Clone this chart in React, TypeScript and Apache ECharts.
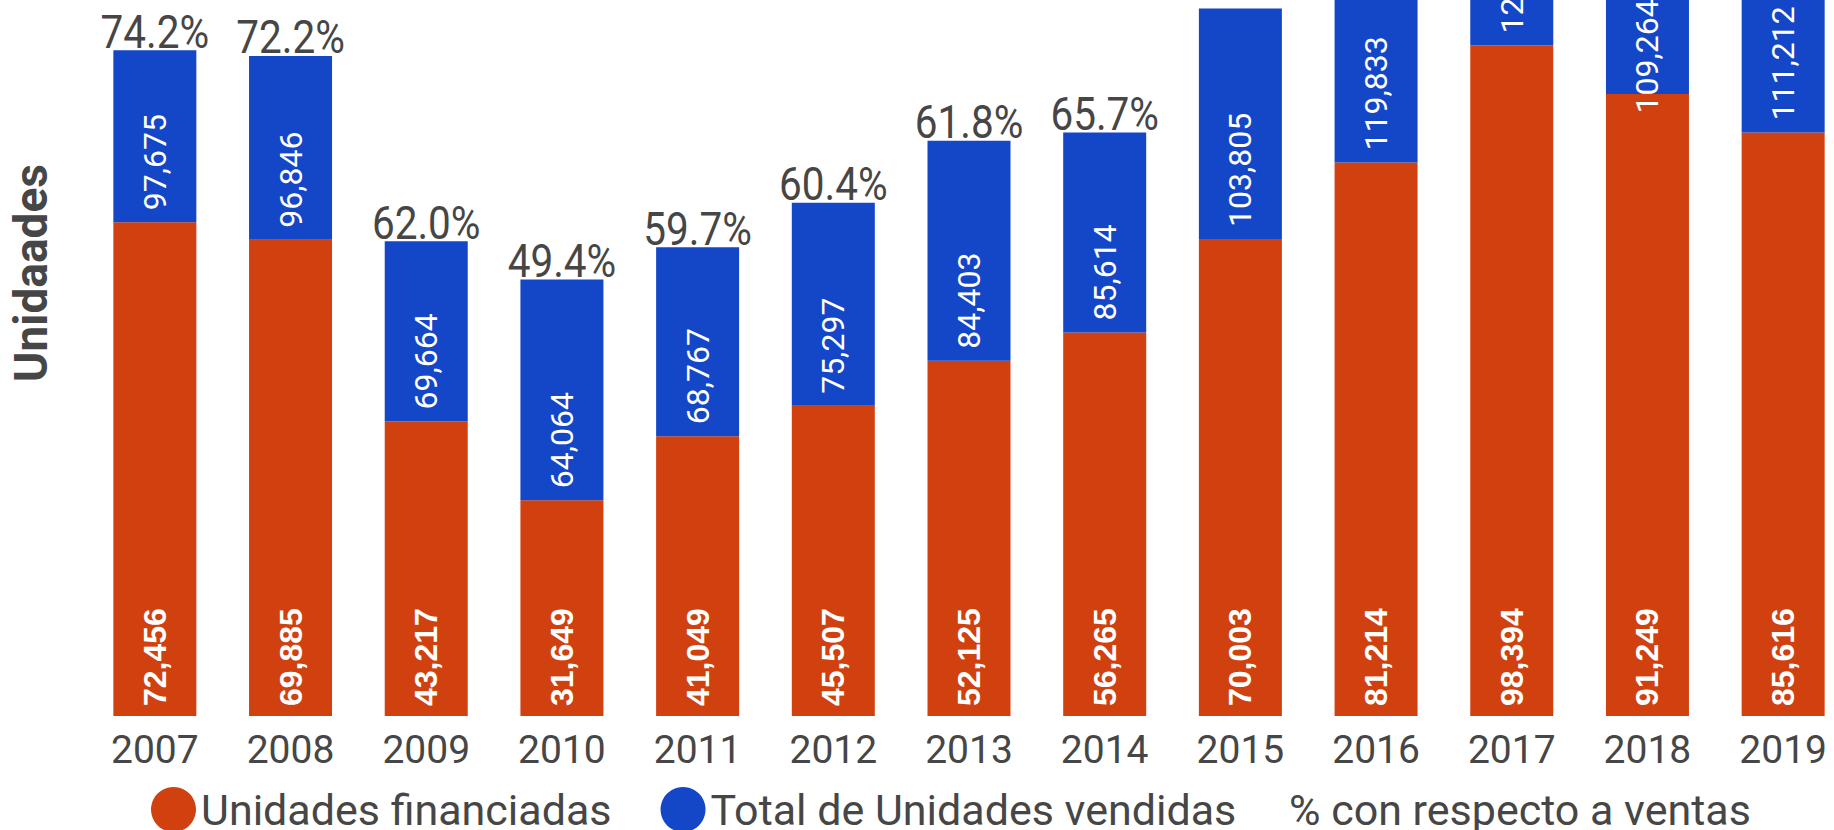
import React, { useEffect, useRef } from "react";
import * as echarts from "echarts";

const years = ["2007", "2008", "2009", "2010", "2011", "2012", "2013", "2014", "2015", "2016", "2017", "2018", "2019"];
const financed = [72456, 69885, 43217, 31649, 41049, 45507, 52125, 56265, 70003, 81214, 98394, 91249, 85616];
const totals = [97675, 96846, 69664, 64064, 68767, 75297, 84403, 85614, 103805, 119833, 123500, 109264, 111212];

const ORANGE = "#D14110";
const BLUE = "#1446C8";
const GRAY = "#464646";
const fmt = (v: number) => v.toLocaleString("en-US");

// The reference is a crop of a taller/wider chart: the chart div overflows the visible page.
const OVER_TOP = 180;
const CHART_W = 1851;
const CHART_H = 830 + OVER_TOP;

export default function App() {
  const ref = useRef<HTMLDivElement>(null);
  useEffect(() => {
    if (!ref.current) return;
    const chart = echarts.init(ref.current, null, { renderer: "svg" });
    const remainder = totals.map((t, i) => t - financed[i]);
    const pct = totals.map((t, i) => ((financed[i] / t) * 100).toFixed(1) + "%");
    const blueLabelBase = {
      show: true,
      rotate: 90,
      verticalAlign: "middle",
      color: "#ffffff",
      fontFamily: "Roboto",
      fontSize: 32,
    };
    chart.setOption({
      animation: false,
      backgroundColor: "#ffffff",
      grid: { left: 80, right: 0, top: 10, bottom: 114 },
      legend: [
        {
          data: ["Unidades financiadas", "Total de Unidades vendidas"],
          left: 146,
          top: 782 + OVER_TOP,
          icon: "circle",
          itemWidth: 45,
          itemHeight: 45,
          itemGap: 49,
          textStyle: { fontFamily: "Roboto", fontSize: 43, color: GRAY },
        },
        {
          data: ["% con respecto a ventas"],
          left: 1278,
          top: 782 + OVER_TOP,
          itemWidth: 1,
          itemHeight: 45,
          textStyle: { fontFamily: "Roboto", fontSize: 43, color: GRAY },
        },
      ],
      xAxis: {
        type: "category",
        data: years,
        axisLine: { show: false },
        axisTick: { show: false },
        axisLabel: { fontFamily: "Roboto", fontSize: 39, color: GRAY, margin: 14 },
      },
      yAxis: {
        type: "value",
        min: 0,
        max: 130000,
        axisLabel: { show: false },
        axisLine: { show: false },
        axisTick: { show: false },
        splitLine: { show: false },
        name: "Unidaades",
        nameLocation: "middle",
        nameGap: 33,
        nameTextStyle: { fontFamily: "Roboto", fontSize: 46, fontWeight: "bold", color: GRAY },
      },
      series: [
        {
          name: "Unidades financiadas",
          type: "bar",
          stack: "u",
          barWidth: 83,
          data: financed,
          itemStyle: { color: ORANGE },
          label: {
            show: true,
            position: "insideBottom",
            rotate: 90,
            align: "left",
            verticalAlign: "middle",
            distance: 10,
            color: "#ffffff",
            fontFamily: "Liberation Sans, Arial",
            fontWeight: "bold",
            fontSize: 32,
            formatter: (p: any) => fmt(financed[p.dataIndex]),
          },
        },
        {
          name: "Total de Unidades vendidas",
          type: "bar",
          stack: "u",
          barWidth: 83,
          // when the blue segment is too short for its label, the label hangs from the segment top
          data: remainder.map((v) =>
            v < 20000
              ? { value: v, label: { ...blueLabelBase, position: "insideTop", align: "right", distance: 28 } }
              : v
          ),
          itemStyle: { color: BLUE },
          label: {
            ...blueLabelBase,
            position: "insideBottom",
            align: "left",
            distance: 12,
            formatter: (p: any) => fmt(totals[p.dataIndex]),
          },
        },
        {
          name: "% con respecto a ventas",
          type: "custom",
          data: totals.map((t, i) => [i, t]),
          itemStyle: { color: "rgba(0,0,0,0)" },
          z: 5,
          renderItem: (params: any, api: any) => {
            const i = params.dataIndex;
            const pt = api.coord([api.value(0), api.value(1)]);
            // labels that would not fit inside the visible frame are not drawn
            if (pt[1] - OVER_TOP < 40) return null;
            return {
              type: "text",
              x: pt[0],
              y: pt[1] + 5,
              scaleX: 0.88,
              style: {
                text: pct[i],
                fontFamily: "Roboto",
                fontSize: 46,
                fill: GRAY,
                align: "center",
                verticalAlign: "bottom",
              },
            };
          },
        },
      ],
    });
    return () => chart.dispose();
  }, []);
  return (
    <div
      style={{
        position: "fixed",
        left: 0,
        top: 0,
        width: 1834,
        height: 830,
        overflow: "hidden",
        background: "#fff",
      }}
    >
      <div
        ref={ref}
        style={{ position: "absolute", left: 0, top: -OVER_TOP, width: CHART_W, height: CHART_H }}
      />
    </div>
  );
}
